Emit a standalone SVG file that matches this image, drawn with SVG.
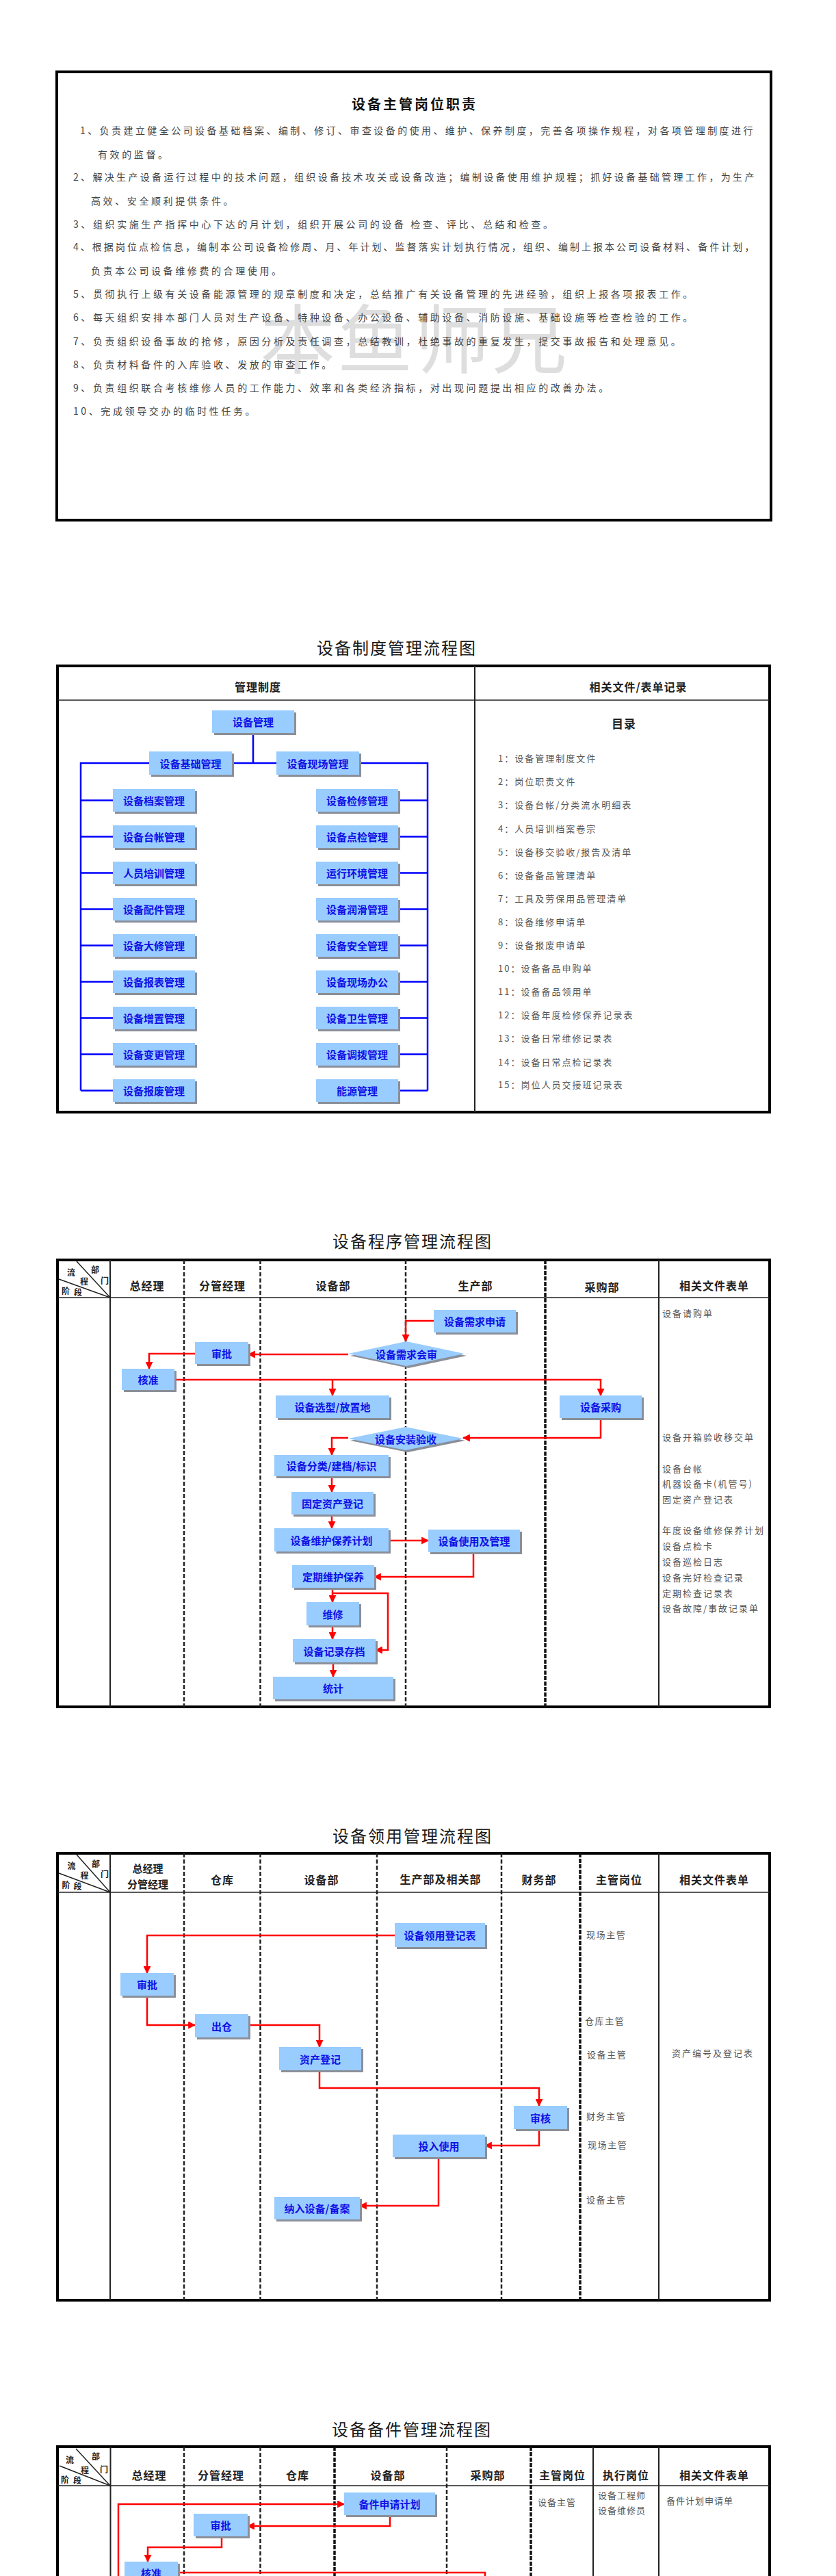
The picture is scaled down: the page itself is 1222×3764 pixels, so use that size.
<svg xmlns="http://www.w3.org/2000/svg" width="1222" height="3764" viewBox="0 0 1222 3764">
<style>
text{font-family:"Noto Sans CJK SC","Noto Sans",sans-serif}
.body{font-size:14px;fill:#444;letter-spacing:3.6px;dominant-baseline:central}
.wm{font-size:110px;fill:#000;fill-opacity:0.13;letter-spacing:3px}
.h1{font-size:20px;font-weight:bold;fill:#111;text-anchor:middle;dominant-baseline:central;letter-spacing:3px}
.ttl{font-size:24px;fill:#1a1a1a;text-anchor:middle;dominant-baseline:central;letter-spacing:2px}
.hd{font-size:16px;font-weight:bold;fill:#222;text-anchor:middle;dominant-baseline:central;letter-spacing:1px}
.hs{font-size:15px;font-weight:bold;fill:#222;text-anchor:middle;dominant-baseline:central}
.dg{font-size:12px;font-weight:bold;fill:#222;text-anchor:middle;dominant-baseline:central}
.lst{font-size:13px;fill:#555;letter-spacing:2px;dominant-baseline:central}
.nl{font-size:15px;font-weight:bold;fill:#1010e6;text-anchor:middle;dominant-baseline:central}
.bx{fill:#99ccff}
.sh{fill:#8a8f99}
.frame{fill:none;stroke:#000;stroke-width:4}
.sol{stroke:#222;stroke-width:2;fill:none}
.thin{stroke:#222;stroke-width:1.5;fill:none}
.dsh{stroke:#222;stroke-width:2.5;stroke-dasharray:6 3;fill:none}
.dshk{stroke:#111;stroke-width:3.5;stroke-dasharray:6 2;fill:none}
.blue{stroke:#0000ff;stroke-width:2.5;fill:none}
.red{stroke:#ff0000;stroke-width:2.5;fill:none}
.ra{marker-end:url(#ar)}
</style>
<defs>
<marker id="ar" viewBox="0 0 10 10" refX="9" refY="5" markerWidth="11" markerHeight="11" markerUnits="userSpaceOnUse" orient="auto"><path d="M0,0 L10,5 L0,10 z" fill="#ff0000"/></marker>
</defs>
<rect width="1222" height="3764" fill="#fff"/>

<!-- ===== Section 1: job duties ===== -->
<g id="duties">
<rect class="frame" x="83" y="105" width="1044" height="655"/>
<text class="wm" x="380" y="537">本鱼师兄</text>
<text class="h1" x="606" y="151">设备主管岗位职责</text>
<text class="body" x="117" y="190" textLength="987">1、负责建立健全公司设备基础档案、编制、修订、审查设备的使用、维护、保养制度，完善各项操作规程，对各项管理制度进行</text>
<text class="body" x="143" y="225">有效的监督。</text>
<text class="body" x="107" y="258" textLength="999">2、解决生产设备运行过程中的技术问题，组织设备技术攻关或设备改造；编制设备使用维护规程；抓好设备基础管理工作，为生产</text>
<text class="body" x="133" y="293">高效、安全顺利提供条件。</text>
<text class="body" x="107" y="327">3、组织实施生产指挥中心下达的月计划，组织开展公司的设备 检查、评比、总结和检查。</text>
<text class="body" x="107" y="360" textLength="999">4、根据岗位点检信息，编制本公司设备检修周、月、年计划、监督落实计划执行情况，组织、编制上报本公司设备材料、备件计划，</text>
<text class="body" x="133" y="395">负责本公司设备维修费的合理使用。</text>
<text class="body" x="107" y="429">5、贯彻执行上级有关设备能源管理的规章制度和决定，总结推广有关设备管理的先进经验，组织上报各项报表工作。</text>
<text class="body" x="107" y="463">6、每天组织安排本部门人员对生产设备、特种设备、办公设备、辅助设备、消防设施、基础设施等检查检验的工作。</text>
<text class="body" x="107" y="498">7、负责组织设备事故的抢修，原因分析及责任调查，总结教训，杜绝事故的重复发生，提交事故报告和处理意见。</text>
<text class="body" x="107" y="532">8、负责材料备件的入库验收、发放的审查工作。</text>
<text class="body" x="107" y="566">9、负责组织联合考核维修人员的工作能力、效率和各类经济指标，对出现问题提出相应的改善办法。</text>
<text class="body" x="107" y="600">10、完成领导交办的临时性任务。</text>
</g>

<!-- ===== Section 2: system management ===== -->
<text class="ttl" x="580" y="945">设备制度管理流程图</text>
<g id="s2-table">
<rect class="frame" x="84" y="973" width="1041" height="652"/>
<line class="thin" x1="84" y1="1023" x2="1125" y2="1023"/>
<line class="sol" x1="694" y1="973" x2="694" y2="1625"/>
<text class="hd" x="377" y="1003">管理制度</text>
<text class="hd" x="933" y="1003">相关文件/表单记录</text>
<text class="hd" x="912" y="1056" style="font-size:17px">目录</text>
</g>
<g id="s2-list">
<text class="lst" x="728" y="1107">1：设备管理制度文件</text>
<text class="lst" x="728" y="1141">2：岗位职责文件</text>
<text class="lst" x="728" y="1175">3：设备台帐/分类流水明细表</text>
<text class="lst" x="728" y="1210">4：人员培训档案卷宗</text>
<text class="lst" x="728" y="1244">5：设备移交验收/报告及清单</text>
<text class="lst" x="728" y="1278">6：设备备品管理清单</text>
<text class="lst" x="728" y="1312">7：工具及劳保用品管理清单</text>
<text class="lst" x="728" y="1346">8：设备维修申请单</text>
<text class="lst" x="728" y="1380">9：设备报废申请单</text>
<text class="lst" x="728" y="1414">10：设备备品申购单</text>
<text class="lst" x="728" y="1448">11：设备备品领用单</text>
<text class="lst" x="728" y="1482">12：设备年度检修保养记录表</text>
<text class="lst" x="728" y="1516">13：设备日常维修记录表</text>
<text class="lst" x="728" y="1551">14：设备日常点检记录表</text>
<text class="lst" x="728" y="1584">15：岗位人员交接班记录表</text>
</g>
<g id="s2-connectors">
<path class="blue" d="M370,1071 V1115 M339,1115 H404"/>
<path class="blue" d="M218,1115 H118 V1593.5 M118,1169.5 H165 M118,1222.5 H165 M118,1275.5 H165 M118,1328.5 H165 M118,1381.5 H165 M118,1434.5 H165 M118,1487.5 H165 M118,1540.5 H165 M118,1593.5 H165"/>
<path class="blue" d="M525,1115 H625 V1593.5 M582,1169.5 H625 M582,1222.5 H625 M582,1275.5 H625 M582,1328.5 H625 M582,1381.5 H625 M582,1434.5 H625 M582,1487.5 H625 M582,1540.5 H625 M582,1593.5 H625"/>
</g>
<g id="s2-root"><rect class="sh" x="313" y="1041" width="120" height="33"/><rect class="bx" x="310" y="1038" width="120" height="33"/><text class="nl" x="370" y="1054.5">设备管理</text></g>
<g id="s2-basic"><rect class="sh" x="221" y="1101" width="121" height="34"/><rect class="bx" x="218" y="1098" width="121" height="34"/><text class="nl" x="278.5" y="1115">设备基础管理</text></g>
<g id="s2-field"><rect class="sh" x="407" y="1101" width="121" height="34"/><rect class="bx" x="404" y="1098" width="121" height="34"/><text class="nl" x="464.5" y="1115">设备现场管理</text></g>
<g id="s2-l1"><rect class="sh" x="168" y="1156" width="120" height="33"/><rect class="bx" x="165" y="1153" width="120" height="33"/><text class="nl" x="225" y="1169.5">设备档案管理</text></g>
<g id="s2-l2"><rect class="sh" x="168" y="1209" width="120" height="33"/><rect class="bx" x="165" y="1206" width="120" height="33"/><text class="nl" x="225" y="1222.5">设备台帐管理</text></g>
<g id="s2-l3"><rect class="sh" x="168" y="1262" width="120" height="33"/><rect class="bx" x="165" y="1259" width="120" height="33"/><text class="nl" x="225" y="1275.5">人员培训管理</text></g>
<g id="s2-l4"><rect class="sh" x="168" y="1315" width="120" height="33"/><rect class="bx" x="165" y="1312" width="120" height="33"/><text class="nl" x="225" y="1328.5">设备配件管理</text></g>
<g id="s2-l5"><rect class="sh" x="168" y="1368" width="120" height="33"/><rect class="bx" x="165" y="1365" width="120" height="33"/><text class="nl" x="225" y="1381.5">设备大修管理</text></g>
<g id="s2-l6"><rect class="sh" x="168" y="1421" width="120" height="33"/><rect class="bx" x="165" y="1418" width="120" height="33"/><text class="nl" x="225" y="1434.5">设备报表管理</text></g>
<g id="s2-l7"><rect class="sh" x="168" y="1474" width="120" height="33"/><rect class="bx" x="165" y="1471" width="120" height="33"/><text class="nl" x="225" y="1487.5">设备增置管理</text></g>
<g id="s2-l8"><rect class="sh" x="168" y="1527" width="120" height="33"/><rect class="bx" x="165" y="1524" width="120" height="33"/><text class="nl" x="225" y="1540.5">设备变更管理</text></g>
<g id="s2-l9"><rect class="sh" x="168" y="1580" width="120" height="33"/><rect class="bx" x="165" y="1577" width="120" height="33"/><text class="nl" x="225" y="1593.5">设备报废管理</text></g>
<g id="s2-r1"><rect class="sh" x="465" y="1156" width="120" height="33"/><rect class="bx" x="462" y="1153" width="120" height="33"/><text class="nl" x="522" y="1169.5">设备检修管理</text></g>
<g id="s2-r2"><rect class="sh" x="465" y="1209" width="120" height="33"/><rect class="bx" x="462" y="1206" width="120" height="33"/><text class="nl" x="522" y="1222.5">设备点检管理</text></g>
<g id="s2-r3"><rect class="sh" x="465" y="1262" width="120" height="33"/><rect class="bx" x="462" y="1259" width="120" height="33"/><text class="nl" x="522" y="1275.5">运行环境管理</text></g>
<g id="s2-r4"><rect class="sh" x="465" y="1315" width="120" height="33"/><rect class="bx" x="462" y="1312" width="120" height="33"/><text class="nl" x="522" y="1328.5">设备润滑管理</text></g>
<g id="s2-r5"><rect class="sh" x="465" y="1368" width="120" height="33"/><rect class="bx" x="462" y="1365" width="120" height="33"/><text class="nl" x="522" y="1381.5">设备安全管理</text></g>
<g id="s2-r6"><rect class="sh" x="465" y="1421" width="120" height="33"/><rect class="bx" x="462" y="1418" width="120" height="33"/><text class="nl" x="522" y="1434.5">设备现场办公</text></g>
<g id="s2-r7"><rect class="sh" x="465" y="1474" width="120" height="33"/><rect class="bx" x="462" y="1471" width="120" height="33"/><text class="nl" x="522" y="1487.5">设备卫生管理</text></g>
<g id="s2-r8"><rect class="sh" x="465" y="1527" width="120" height="33"/><rect class="bx" x="462" y="1524" width="120" height="33"/><text class="nl" x="522" y="1540.5">设备调拨管理</text></g>
<g id="s2-r9"><rect class="sh" x="465" y="1580" width="120" height="33"/><rect class="bx" x="462" y="1577" width="120" height="33"/><text class="nl" x="522" y="1593.5">能源管理</text></g>

<!-- ===== Section 3: procedure ===== -->
<text class="ttl" x="603" y="1812">设备程序管理流程图</text>
<g id="s3-table">
<rect class="frame" x="84" y="1841" width="1041" height="653"/>
<line class="thin" x1="84" y1="1896" x2="1125" y2="1896"/>
<line class="sol" x1="161" y1="1841" x2="161" y2="2494"/>
<line class="dsh" x1="269" y1="1841" x2="269" y2="2494"/>
<line class="dsh" x1="380.5" y1="1841" x2="380.5" y2="2494"/>
<line class="dsh" x1="593" y1="1841" x2="593" y2="2494"/>
<line class="dshk" x1="797" y1="1841" x2="797" y2="2494"/>
<line class="sol" x1="963" y1="1841" x2="963" y2="2494"/>
<line class="thin" x1="112" y1="1843" x2="161" y2="1896"/>
<line class="thin" x1="86" y1="1869" x2="161" y2="1896"/>
<text class="dg" x="104" y="1858">流</text><text class="dg" x="139" y="1854">部</text><text class="dg" x="123" y="1871">程</text><text class="dg" x="153" y="1870">门</text><text class="dg" x="96" y="1885">阶</text><text class="dg" x="114" y="1887">段</text>
<text class="hd" x="215" y="1878">总经理</text>
<text class="hd" x="325" y="1878">分管经理</text>
<text class="hd" x="487" y="1878">设备部</text>
<text class="hd" x="695" y="1878">生产部</text>
<text class="hd" x="880" y="1880">采购部</text>
<text class="hd" x="1044" y="1878">相关文件表单</text>
</g>
<g id="s3-docs">
<text class="lst" x="968" y="1918">设备请购单</text>
<text class="lst" x="968" y="2099">设备开箱验收移交单</text>
<text class="lst" x="968" y="2145">设备台帐</text>
<text class="lst" x="968" y="2167">机器设备卡(机管号)</text>
<text class="lst" x="968" y="2190">固定资产登记表</text>
<text class="lst" x="968" y="2235">年度设备维修保养计划</text>
<text class="lst" x="968" y="2258">设备点检卡</text>
<text class="lst" x="968" y="2281">设备巡检日志</text>
<text class="lst" x="968" y="2304">设备完好检查记录</text>
<text class="lst" x="968" y="2327">定期检查记录表</text>
<text class="lst" x="968" y="2349">设备故障/事故记录单</text>
</g>
<g id="s3-connectors">
<path class="red ra" d="M634,1930 H593 V1960"/>
<path class="red ra" d="M509,1979 H363"/>
<path class="red ra" d="M285,1978 H218 V2000"/>
<path class="red ra" d="M255,2016 H878 V2039"/>
<path class="red ra" d="M486,2016 V2039"/>
<path class="red ra" d="M878,2072 V2101 H677"/>
<path class="red ra" d="M509,2101 H485 V2126"/>
<path class="red ra" d="M485,2157 V2180"/>
<path class="red ra" d="M485,2213 V2233"/>
<path class="red ra" d="M568,2251 H626"/>
<path class="red ra" d="M692,2268 V2304 H547"/>
<path class="red ra" d="M486,2320 V2341"/>
<path class="red ra" d="M486,2328 H567 V2411 H549"/>
<path class="red ra" d="M486,2375 V2395"/>
<path class="red ra" d="M487,2429 V2450"/>
</g>
<g id="s3-req"><rect class="sh" x="637" y="1917" width="120" height="33"/><rect class="bx" x="634" y="1914" width="120" height="33"/><text class="nl" x="694" y="1930.5">设备需求申请</text></g>
<g id="s3-review"><polygon class="sh" points="512,1981 597,1963 682,1981 597,1999"/><polygon class="bx" points="509,1978 594,1960 679,1978 594,1996"/><text class="nl" x="594" y="1978">设备需求会审</text></g>
<g id="s3-approve"><rect class="sh" x="288" y="1964" width="78" height="32"/><rect class="bx" x="285" y="1961" width="78" height="32"/><text class="nl" x="324" y="1977">审批</text></g>
<g id="s3-ratify"><rect class="sh" x="181" y="2003" width="77" height="31"/><rect class="bx" x="178" y="2000" width="77" height="31"/><text class="nl" x="216.5" y="2015.5">核准</text></g>
<g id="s3-select"><rect class="sh" x="406" y="2042" width="166" height="33"/><rect class="bx" x="403" y="2039" width="166" height="33"/><text class="nl" x="486" y="2055.5">设备选型/放置地</text></g>
<g id="s3-purchase"><rect class="sh" x="821" y="2042" width="120" height="33"/><rect class="bx" x="818" y="2039" width="120" height="33"/><text class="nl" x="878" y="2055.5">设备采购</text></g>
<g id="s3-install"><polygon class="sh" points="512,2105 596,2088 680,2105 596,2122"/><polygon class="bx" points="509,2102 593,2085 677,2102 593,2119"/><text class="nl" x="593" y="2102">设备安装验收</text></g>
<g id="s3-classify"><rect class="sh" x="404" y="2129" width="167" height="31"/><rect class="bx" x="401" y="2126" width="167" height="31"/><text class="nl" x="484.5" y="2141.5">设备分类/建档/标识</text></g>
<g id="s3-asset"><rect class="sh" x="429" y="2183" width="120" height="33"/><rect class="bx" x="426" y="2180" width="120" height="33"/><text class="nl" x="486" y="2196.5">固定资产登记</text></g>
<g id="s3-plan"><rect class="sh" x="404" y="2236" width="167" height="34"/><rect class="bx" x="401" y="2233" width="167" height="34"/><text class="nl" x="484.5" y="2250">设备维护保养计划</text></g>
<g id="s3-use"><rect class="sh" x="629" y="2238" width="134" height="33"/><rect class="bx" x="626" y="2235" width="134" height="33"/><text class="nl" x="693" y="2251.5">设备使用及管理</text></g>
<g id="s3-maint"><rect class="sh" x="430" y="2290" width="120" height="33"/><rect class="bx" x="427" y="2287" width="120" height="33"/><text class="nl" x="487" y="2303.5">定期维护保养</text></g>
<g id="s3-repair"><rect class="sh" x="451" y="2344" width="77" height="34"/><rect class="bx" x="448" y="2341" width="77" height="34"/><text class="nl" x="486.5" y="2358">维修</text></g>
<g id="s3-archive"><rect class="sh" x="431" y="2398" width="121" height="34"/><rect class="bx" x="428" y="2395" width="121" height="34"/><text class="nl" x="488.5" y="2412">设备记录存档</text></g>
<g id="s3-stat"><rect class="sh" x="402" y="2453" width="176" height="33"/><rect class="bx" x="399" y="2450" width="176" height="33"/><text class="nl" x="487" y="2466.5">统计</text></g>

<!-- ===== Section 4: requisition ===== -->
<text class="ttl" x="603" y="2681">设备领用管理流程图</text>
<g id="s4-table">
<rect class="frame" x="84" y="2708" width="1041" height="653"/>
<line class="thin" x1="84" y1="2765" x2="1125" y2="2765"/>
<line class="sol" x1="161" y1="2708" x2="161" y2="3361"/>
<line class="dsh" x1="269" y1="2708" x2="269" y2="3361"/>
<line class="dsh" x1="380.5" y1="2708" x2="380.5" y2="3361"/>
<line class="dsh" x1="551" y1="2708" x2="551" y2="3361"/>
<line class="dsh" x1="733" y1="2708" x2="733" y2="3361"/>
<line class="dshk" x1="848" y1="2708" x2="848" y2="3361"/>
<line class="sol" x1="963" y1="2708" x2="963" y2="3361"/>
<line class="thin" x1="112" y1="2710" x2="161" y2="2765"/>
<line class="thin" x1="86" y1="2737" x2="161" y2="2765"/>
<text class="dg" x="104.5" y="2725">流</text><text class="dg" x="140" y="2722">部</text><text class="dg" x="123.5" y="2739">程</text><text class="dg" x="153" y="2737">门</text><text class="dg" x="96.5" y="2753">阶</text><text class="dg" x="113.5" y="2755">段</text>
<text class="hs" x="216" y="2729">总经理</text>
<text class="hs" x="216" y="2752">分管经理</text>
<text class="hd" x="325" y="2746">仓库</text>
<text class="hd" x="470" y="2746">设备部</text>
<text class="hd" x="644" y="2745">生产部及相关部</text>
<text class="hd" x="788" y="2746">财务部</text>
<text class="hd" x="905" y="2746">主管岗位</text>
<text class="hd" x="1044" y="2746">相关文件表单</text>
</g>
<g id="s4-docs">
<text class="lst" x="857" y="2826" style="letter-spacing:1.6px">现场主管</text>
<text class="lst" x="855" y="2952" style="letter-spacing:1.6px">仓库主管</text>
<text class="lst" x="858" y="3001" style="letter-spacing:1.6px">设备主管</text>
<text class="lst" x="857" y="3091" style="letter-spacing:1.6px">财务主管</text>
<text class="lst" x="859" y="3133" style="letter-spacing:1.6px">现场主管</text>
<text class="lst" x="857" y="3213" style="letter-spacing:1.6px">设备主管</text>
<text class="lst" x="982" y="2999">资产编号及登记表</text>
</g>
<g id="s4-connectors">
<path class="red ra" d="M577,2828 H215 V2883"/>
<path class="red ra" d="M215,2916 V2959 H285"/>
<path class="red ra" d="M363,2959 H467 V2991"/>
<path class="red ra" d="M467,3025 V3051 H788 V3077"/>
<path class="red ra" d="M788,3111 V3135 H709"/>
<path class="red ra" d="M641,3152 V3223 H526"/>
</g>
<g id="s4-form"><rect class="sh" x="580" y="2813" width="132" height="35"/><rect class="bx" x="577" y="2810" width="132" height="35"/><text class="nl" x="643" y="2827.5">设备领用登记表</text></g>
<g id="s4-approve"><rect class="sh" x="179" y="2886" width="78" height="33"/><rect class="bx" x="176" y="2883" width="78" height="33"/><text class="nl" x="215" y="2899.5">审批</text></g>
<g id="s4-out"><rect class="sh" x="288" y="2946" width="78" height="34"/><rect class="bx" x="285" y="2943" width="78" height="34"/><text class="nl" x="324" y="2960">出仓</text></g>
<g id="s4-reg"><rect class="sh" x="411" y="2994" width="120" height="34"/><rect class="bx" x="408" y="2991" width="120" height="34"/><text class="nl" x="468" y="3008">资产登记</text></g>
<g id="s4-audit"><rect class="sh" x="754" y="3080" width="78" height="34"/><rect class="bx" x="751" y="3077" width="78" height="34"/><text class="nl" x="790" y="3094">审核</text></g>
<g id="s4-use"><rect class="sh" x="577" y="3122" width="135" height="33"/><rect class="bx" x="574" y="3119" width="135" height="33"/><text class="nl" x="641.5" y="3135.5">投入使用</text></g>
<g id="s4-file"><rect class="sh" x="404" y="3213" width="125" height="33"/><rect class="bx" x="401" y="3210" width="125" height="33"/><text class="nl" x="463.5" y="3226.5">纳入设备/备案</text></g>

<!-- ===== Section 5: spare parts ===== -->
<text class="ttl" x="602" y="3548">设备备件管理流程图</text>
<g id="s5-table">
<rect class="frame" x="84" y="3575" width="1041" height="260"/>
<line class="thin" x1="84" y1="3632" x2="1125" y2="3632"/>
<line class="sol" x1="161.5" y1="3575" x2="161.5" y2="3764"/>
<line class="dsh" x1="269" y1="3575" x2="269" y2="3764"/>
<line class="dsh" x1="380.5" y1="3575" x2="380.5" y2="3764"/>
<line class="dshk" x1="489" y1="3575" x2="489" y2="3764"/>
<line class="dsh" x1="653" y1="3575" x2="653" y2="3764"/>
<line class="dshk" x1="776" y1="3575" x2="776" y2="3764"/>
<line class="sol" x1="867" y1="3575" x2="867" y2="3764"/>
<line class="sol" x1="963" y1="3575" x2="963" y2="3764"/>
<line class="thin" x1="111" y1="3578" x2="161" y2="3632"/>
<line class="thin" x1="87" y1="3603" x2="161" y2="3632"/>
<text class="dg" x="102" y="3593">流</text><text class="dg" x="140" y="3588">部</text><text class="dg" x="124" y="3608">程</text><text class="dg" x="152" y="3607">门</text><text class="dg" x="95" y="3622">阶</text><text class="dg" x="113" y="3623">段</text>
<text class="hd" x="218" y="3616">总经理</text>
<text class="hd" x="323" y="3616">分管经理</text>
<text class="hd" x="435" y="3616">仓库</text>
<text class="hd" x="567" y="3616">设备部</text>
<text class="hd" x="713" y="3616">采购部</text>
<text class="hd" x="822" y="3616">主管岗位</text>
<text class="hd" x="915" y="3616">执行岗位</text>
<text class="hd" x="1044" y="3616">相关文件表单</text>
</g>
<g id="s5-docs">
<text class="lst" x="786" y="3655" style="letter-spacing:1px">设备主管</text>
<text class="lst" x="874" y="3645" style="letter-spacing:1px">设备工程师</text>
<text class="lst" x="874" y="3667" style="letter-spacing:1px">设备维修员</text>
<text class="lst" x="974" y="3653" style="letter-spacing:1px">备件计划申请单</text>
</g>
<g id="s5-connectors">
<path class="red ra" d="M173,3800 V3659 H503"/>
<path class="red ra" d="M570,3675 V3691 H362"/>
<path class="red ra" d="M324,3706 V3722 H216 V3743"/>
<path class="red" d="M260,3759 H709 V3800"/>
</g>
<g id="s5-plan"><rect class="sh" x="506" y="3645" width="133" height="33"/><rect class="bx" x="503" y="3642" width="133" height="33"/><text class="nl" x="569.5" y="3658.5">备件申请计划</text></g>
<g id="s5-approve"><rect class="sh" x="286" y="3676" width="79" height="33"/><rect class="bx" x="283" y="3673" width="79" height="33"/><text class="nl" x="322.5" y="3689.5">审批</text></g>
<g id="s5-ratify"><rect class="sh" x="185" y="3746" width="78" height="33"/><rect class="bx" x="182" y="3743" width="78" height="33"/><text class="nl" x="221" y="3759.5">核准</text></g>
</svg>
